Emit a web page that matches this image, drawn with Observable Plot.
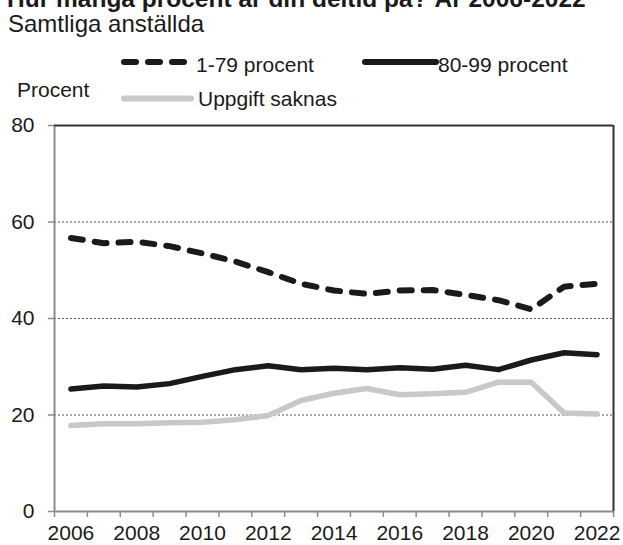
<!DOCTYPE html>
<html>
<head>
<meta charset="utf-8">
<script src="https://cdn.jsdelivr.net/npm/d3@7"></script>
<script src="https://cdn.jsdelivr.net/npm/@observablehq/plot@0.6"></script>
<style>
  html, body { margin: 0; padding: 0; background: #fff; }
  body { width: 623px; height: 545px; position: relative; overflow: hidden; font-family: "Liberation Sans", Arial, sans-serif; color: #1a1a1a; }
  .t { position: absolute; white-space: nowrap; }
  #title { left: 7px; top: -13px; font-size: 24.5px; line-height: 24px; font-weight: bold; }
  #subtitle { left: 8px; top: 12px; font-size: 24px; line-height: 24px; }
  .leg { font-size: 21px; line-height: 21px; }
  #chart { position: absolute; left: 0; top: 110px; }
  svg.sw { position: absolute; overflow: visible; }
</style>
</head>
<body>
<div id="title" class="t">Hur många procent är din deltid på? År 2006-2022</div>
<div id="subtitle" class="t">Samtliga anställda</div>
<div class="t leg" style="left:17px; top:79px;">Procent</div>
<svg class="sw" style="left:0; top:0" width="623" height="110">
  <line x1="124" x2="184" y1="62" y2="62" stroke="#1a1a1a" stroke-width="6" stroke-linecap="round" stroke-dasharray="12,12"/>
  <line x1="365" x2="436" y1="62" y2="62" stroke="#1a1a1a" stroke-width="6" stroke-linecap="round"/>
  <line x1="124" x2="191" y1="98.5" y2="98.5" stroke="#c8c8c8" stroke-width="6" stroke-linecap="round"/>
</svg>
<div class="t leg" style="left:196px; top:54px;">1-79 procent</div>
<div class="t leg" style="left:438px; top:54px;">80-99 procent</div>
<div class="t leg" style="left:198px; top:88px;">Uppgift saknas</div>
<div id="chart"></div>
<script>
const years = [2006,2007,2008,2009,2010,2011,2012,2013,2014,2015,2016,2017,2018,2019,2020,2021,2022];
const del1_79 = [56.7,55.6,55.9,55.0,53.5,51.8,49.6,47.2,45.8,45.1,45.8,45.9,44.9,43.8,41.9,46.6,47.2];
const del80_99 = [25.4,26.0,25.8,26.5,28.0,29.4,30.2,29.4,29.7,29.4,29.8,29.5,30.3,29.4,31.4,32.9,32.5];
const uppgiftSaknas = [17.8,18.2,18.2,18.4,18.5,19.0,19.9,23.0,24.5,25.5,24.2,24.4,24.7,26.8,26.8,20.4,20.2];
const xTickLabels = [2006,2008,2010,2012,2014,2016,2018,2020,2022];
const yTicks = [0,20,40,60,80];
const gridValues = [20,40,60];

const toRows = (vals) => years.map((y, i) => ({year: y, value: vals[i]}));
const xMin = years[0] - 0.5, xMax = years[years.length - 1] + 0.5;
const bandEdges = d3.range(xMin, xMax + 0.001, 1);
const yMin = yTicks[0], yMax = yTicks[yTicks.length - 1];

const chart = Plot.plot({
  width: 623,
  height: 435,
  marginTop: 15,
  marginBottom: 34,
  marginLeft: 54,
  marginRight: 10,
  style: {fontFamily: '"Liberation Sans", Arial, sans-serif', fontSize: "21px", color: "#1a1a1a", background: "white", overflow: "visible"},
  x: {domain: [xMin, xMax]},
  y: {domain: [yMin, yMax]},
  marks: [
    Plot.ruleY(gridValues, {stroke: "#555", strokeWidth: 1, strokeDasharray: "2,2"}),
    Plot.axisY({ticks: yTicks, tickSize: 6, tickPadding: 14, stroke: "#8c8c8c", strokeWidth: 1.5, fill: "#1a1a1a", label: null, tickFormat: d => String(d)}),
    Plot.axisX({ticks: bandEdges, tickSize: 6, stroke: "#8c8c8c", strokeWidth: 1.5, tickFormat: () => "", label: null}),
    Plot.axisX({ticks: xTickLabels, tickSize: 0, tickPadding: 14, fill: "#1a1a1a", tickFormat: d => String(d), label: null}),
    Plot.ruleX([xMin], {stroke: "#8c8c8c", strokeWidth: 2}),
    Plot.ruleY([yMin], {stroke: "#8c8c8c", strokeWidth: 2}),
    Plot.ruleY([yMax], {stroke: "#333", strokeWidth: 2}),
    Plot.ruleX([xMax], {stroke: "#333", strokeWidth: 2}),
    Plot.lineY(toRows(uppgiftSaknas), {x: "year", y: "value", stroke: "#c8c8c8", strokeWidth: 5.5, strokeLinejoin: "round", strokeLinecap: "round"}),
    Plot.lineY(toRows(del80_99), {x: "year", y: "value", stroke: "#1a1a1a", strokeWidth: 5.5, strokeLinejoin: "round", strokeLinecap: "round"}),
    Plot.lineY(toRows(del1_79), {x: "year", y: "value", stroke: "#1a1a1a", strokeWidth: 6, strokeLinejoin: "round", strokeLinecap: "round", strokeDasharray: "12,12"})
  ]
});
document.getElementById("chart").appendChild(chart);
</script>
</body>
</html>
